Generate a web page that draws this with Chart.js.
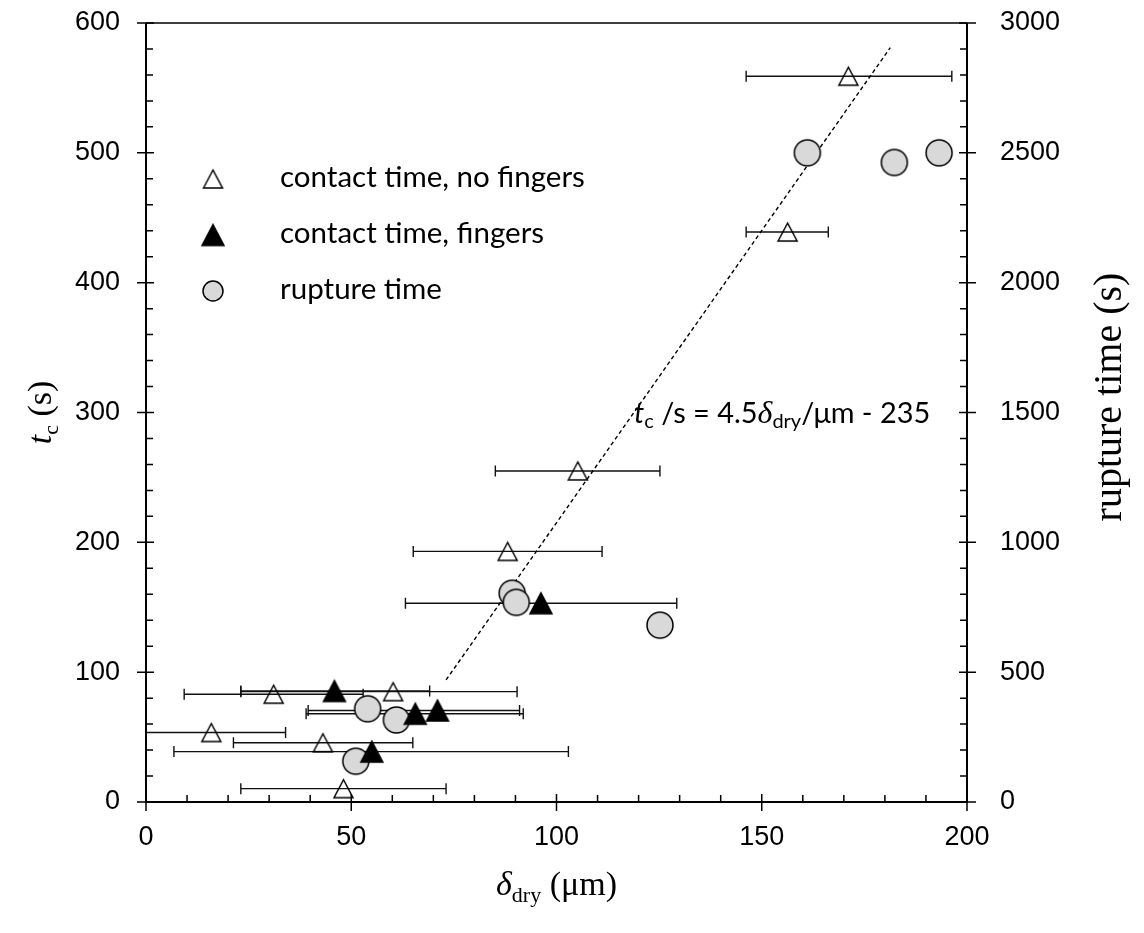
<!DOCTYPE html>
<html>
<head>
<meta charset="utf-8">
<script src="https://cdn.jsdelivr.net/npm/chart.js@4.4.1/dist/chart.umd.min.js"></script>
<style>
  html, body { margin: 0; padding: 0; background: #fff; }
  #wrap { width: 1144px; height: 933px; }
</style>
</head>
<body>
<div id="wrap"><canvas id="myChart" width="1144" height="933"></canvas></div>
<script>
// contact time, no fingers (open triangles): dry thickness (um) vs t_c (s), with x error range
const noFingersX = [171.1, 156.3, 105.2, 88.1, 31.1, 60.2, 15.9, 43.1, 48.1];
const noFingersY = [559, 439, 255, 193, 83, 85, 53.5, 45.6, 10.3];
const noFingersXMin = [146.2, 146.2, 85.1, 65.1, 9.3, 23.1, -2.2, 21.3, 23.1];
const noFingersXMax = [196.3, 166.2, 125.2, 111.1, 52.9, 90.4, 34.0, 65.0, 73.1];

// contact time, fingers (filled triangles)
const fingersX = [45.9, 65.6, 71.0, 55.0, 96.2];
const fingersY = [85.5, 68.0, 70.5, 38.8, 153.1];
const fingersXMin = [23.1, 39.0, 39.5, 6.8, 63.2];
const fingersXMax = [69.1, 91.9, 91.0, 102.9, 129.3];

// rupture time (grey circles), right axis
const ruptureX = [51.1, 54.0, 61.0, 89.2, 90.2, 125.2, 161.1, 182.3, 193.2];
const ruptureY = [157, 359, 316, 804, 769, 681, 2500, 2463, 2500];

// fitted line t_c/s = 4.5 d/um - 235, end points as drawn
const fitX = [73.1, 181.3];
const fitY = [94, 581];

const xTicks = [0, 50, 100, 150, 200];
const yTicks = [0, 100, 200, 300, 400, 500, 600];
const y2Ticks = [0, 500, 1000, 1500, 2000, 2500, 3000];

const SANS = '"Liberation Sans", Arial, sans-serif';
const SERIF = '"Liberation Serif", "Times New Roman", serif';
const CAL = 'Lato, "Open Sans", sans-serif';

// marker images, centred on their bounding box like the original plot
function makeTriangle(w, h, filled) {
  const c = document.createElement('canvas');
  c.width = w + 4; c.height = h + 4;
  const g = c.getContext('2d');
  g.beginPath();
  g.moveTo(2, h + 2);
  g.lineTo(2 + w / 2, 2);
  g.lineTo(w + 2, h + 2);
  g.closePath();
  if (filled) { g.fillStyle = '#000'; g.fill(); }
  g.lineWidth = 1.5;
  g.strokeStyle = '#000';
  g.stroke();
  return c;
}
function makeCircle(d) {
  const c = document.createElement('canvas');
  c.width = d + 4; c.height = d + 4;
  const g = c.getContext('2d');
  g.beginPath();
  g.arc(c.width / 2, c.height / 2, d / 2, 0, Math.PI * 2);
  g.fillStyle = '#d9d9d9';
  g.fill();
  g.lineWidth = 1.5;
  g.strokeStyle = '#000';
  g.stroke();
  return c;
}
const openTri = makeTriangle(19, 18, false);
const filledTri = makeTriangle(22, 21, true);
const bigCircle = makeCircle(26);
const smallCircle = makeCircle(20);

const pts = (xs, ys) => xs.map((x, i) => ({ x: x, y: ys[i] }));

// draws a row of text pieces (for italics and subscripts), returns its width
function runs(ctx, parts, x, y, draw) {
  let cx = x;
  parts.forEach(p => {
    ctx.font = p.font;
    if (draw) ctx.fillText(p.text, cx, y + (p.dy || 0));
    cx += ctx.measureText(p.text).width;
  });
  return cx - x;
}

const errorBars = {
  id: 'errorBars',
  beforeDatasetsDraw(chart) {
    const { ctx, chartArea, scales } = chart;
    const x = scales.x, y = scales.y;
    ctx.save();
    ctx.beginPath();
    ctx.rect(chartArea.left, chartArea.top, chartArea.right - chartArea.left, chartArea.bottom - chartArea.top);
    ctx.clip();
    ctx.strokeStyle = '#111';
    ctx.lineWidth = 1.4;
    const bars = (ys, mins, maxs) => {
      ys.forEach((v, i) => {
        const py = y.getPixelForValue(v);
        const x1 = x.getPixelForValue(mins[i]);
        const x2 = x.getPixelForValue(maxs[i]);
        ctx.beginPath();
        ctx.moveTo(x1, py); ctx.lineTo(x2, py);
        ctx.moveTo(x1, py - 5.5); ctx.lineTo(x1, py + 5.5);
        ctx.moveTo(x2, py - 5.5); ctx.lineTo(x2, py + 5.5);
        ctx.stroke();
      });
    };
    bars(noFingersY, noFingersXMin, noFingersXMax);
    bars(fingersY, fingersXMin, fingersXMax);
    ctx.restore();
  }
};

const frameAndText = {
  id: 'frameAndText',
  afterDraw(chart) {
    const { ctx, chartArea, scales } = chart;
    const { left, right, top, bottom } = chartArea;
    ctx.save();
    ctx.strokeStyle = '#000';
    ctx.fillStyle = '#000';

    // frame
    ctx.lineWidth = 1.5;
    ctx.beginPath();
    ctx.moveTo(left, top); ctx.lineTo(right, top);
    ctx.stroke();
    ctx.lineWidth = 2;
    ctx.beginPath();
    ctx.moveTo(left, top); ctx.lineTo(left, bottom); ctx.lineTo(right, bottom); ctx.lineTo(right, top);
    ctx.stroke();

    // ticks: major cross the axis, minor point inward
    ctx.lineWidth = 1.5;
    ctx.beginPath();
    for (let v = 0; v <= 600; v += 20) {
      const p = scales.y.getPixelForValue(v);
      if (v % 100 === 0) { ctx.moveTo(left - 9, p); ctx.lineTo(left + 8, p); }
      else { ctx.moveTo(left, p); ctx.lineTo(left + 7, p); }
    }
    for (let v = 0; v <= 3000; v += 100) {
      const p = scales.y2.getPixelForValue(v);
      if (v % 500 === 0) { ctx.moveTo(right + 9, p); ctx.lineTo(right - 8, p); }
      else { ctx.moveTo(right, p); ctx.lineTo(right - 7, p); }
    }
    for (let v = 0; v <= 200; v += 10) {
      const p = scales.x.getPixelForValue(v);
      if (v % 50 === 0) { ctx.moveTo(p, bottom + 9); ctx.lineTo(p, bottom - 8); }
      else { ctx.moveTo(p, bottom); ctx.lineTo(p, bottom - 7); }
    }
    ctx.stroke();

    ctx.textBaseline = 'alphabetic';
    ctx.textAlign = 'left';

    // x title
    const xt = [
      { text: 'δ', font: 'italic 34px ' + SERIF },
      { text: 'dry', font: '22px ' + SERIF, dy: 7 },
      { text: ' (μm)', font: '34px ' + SERIF }
    ];
    const xw = runs(ctx, xt, 0, 0, false);
    runs(ctx, xt, (left + right) / 2 - xw / 2, 895, true);

    // left title
    const lt = [
      { text: 't', font: 'italic 34px ' + SERIF },
      { text: 'c', font: '22px ' + SERIF, dy: 7 },
      { text: ' (s)', font: '34px ' + SERIF }
    ];
    ctx.save();
    ctx.translate(51, (top + bottom) / 2);
    ctx.rotate(-Math.PI / 2);
    const lw = runs(ctx, lt, 0, 0, false);
    runs(ctx, lt, -lw / 2, 0, true);
    ctx.restore();

    // right title
    ctx.save();
    ctx.translate(1121, 397);
    ctx.rotate(-Math.PI / 2);
    ctx.font = '40px ' + SERIF;
    ctx.textAlign = 'center';
    ctx.fillText('rupture time (s)', 0, 0);
    ctx.restore();

    // fit equation
    const base = 25;
    const eq = s => [
      { text: 't', font: 'italic ' + s + 'px ' + CAL },
      { text: 'c', font: Math.round(s * 0.7) + 'px ' + CAL, dy: 5 },
      { text: ' /s = 4.5', font: s + 'px ' + CAL },
      { text: 'δ', font: 'italic ' + (s + 3) + 'px ' + SERIF },
      { text: 'dry', font: Math.round(s * 0.7) + 'px ' + CAL, dy: 5 },
      { text: '/μm - 235', font: s + 'px ' + CAL }
    ];
    const ew = runs(ctx, eq(base), 0, 0, false);
    const es = Math.round(base * 298 / ew * 10) / 10;
    runs(ctx, eq(es), 634, 423, true);

    // legend
    ctx.font = '25px ' + CAL;
    const lfs = 25 * 305 / ctx.measureText('contact time, no fingers').width;
    ctx.font = lfs + 'px ' + CAL;
    const items = [
      { img: openTri, text: 'contact time, no fingers', y: 187 },
      { img: filledTri, text: 'contact time, fingers', y: 243 },
      { img: smallCircle, text: 'rupture time', y: 299 }
    ];
    items.forEach(it => {
      ctx.drawImage(it.img, 213 - it.img.width / 2, it.y - 8 - it.img.height / 2);
      ctx.fillText(it.text, 280, it.y);
    });
    ctx.restore();
  }
};

const plain = v => String(v);
const ctx = document.getElementById('myChart').getContext('2d');
const myChart = new Chart(ctx, {
  type: 'scatter',
  data: {
    datasets: [
      {
        label: 'contact time, fingers',
        data: pts(fingersX, fingersY),
        pointStyle: filledTri,
        pointRadius: 11,
        yAxisID: 'y',
        order: 0
      },
      {
        label: 'rupture time',
        data: pts(ruptureX, ruptureY),
        pointStyle: bigCircle,
        pointRadius: 13,
        yAxisID: 'y2',
        order: 1
      },
      {
        label: 'contact time, no fingers',
        data: pts(noFingersX, noFingersY),
        pointStyle: openTri,
        pointRadius: 10,
        yAxisID: 'y',
        order: 2
      },
      {
        type: 'line',
        label: 'fit',
        data: pts(fitX, fitY),
        borderColor: '#000',
        borderWidth: 1.4,
        borderDash: [4, 3],
        pointRadius: 0,
        fill: false,
        yAxisID: 'y',
        order: 3
      }
    ]
  },
  options: {
    responsive: false,
    animation: false,
    events: [],
    layout: { padding: { top: 23, left: 0, right: 0, bottom: 0 } },
    plugins: {
      legend: { display: false },
      tooltip: { enabled: false }
    },
    scales: {
      x: {
        type: 'linear',
        min: 0,
        max: 200,
        afterBuildTicks: s => { s.ticks = xTicks.map(v => ({ value: v })); },
        afterFit: s => { s.height = 131; s.paddingLeft = 0; s.paddingRight = 0; },
        grid: { display: false, drawTicks: false },
        border: { display: false },
        ticks: { color: '#000', padding: 19, maxRotation: 0, callback: plain, font: { family: SANS, size: 27 } }
      },
      y: {
        type: 'linear',
        position: 'left',
        min: 0,
        max: 600,
        afterBuildTicks: s => { s.ticks = yTicks.map(v => ({ value: v })); },
        afterFit: s => { s.width = 146; s.paddingTop = 0; s.paddingBottom = 0; },
        grid: { display: false, drawTicks: false },
        border: { display: false },
        ticks: { color: '#000', padding: 26, callback: plain, font: { family: SANS, size: 27 } }
      },
      y2: {
        type: 'linear',
        position: 'right',
        min: 0,
        max: 3000,
        afterBuildTicks: s => { s.ticks = y2Ticks.map(v => ({ value: v })); },
        afterFit: s => { s.width = 177; s.paddingTop = 0; s.paddingBottom = 0; },
        grid: { display: false, drawTicks: false },
        border: { display: false },
        ticks: { color: '#000', padding: 33, callback: plain, font: { family: SANS, size: 27 } }
      }
    }
  },
  plugins: [errorBars, frameAndText]
});
</script>
</body>
</html>
